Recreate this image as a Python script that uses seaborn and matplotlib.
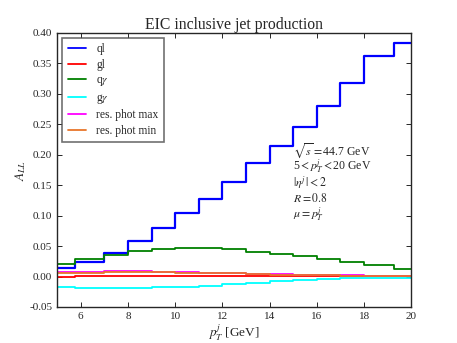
import numpy as np
import pandas as pd
import matplotlib
matplotlib.use("Agg")
import matplotlib.pyplot as plt
import seaborn as sns

# bin edges in pT (GeV) and A_LL per bin for each channel
edges = [5, 5.75, 7, 8, 9, 10, 11, 12, 13, 14, 15, 16, 17, 18, 19.25, 20]
channels = ["ql", "gl", r"q$\gamma$", r"g$\gamma$", "res. phot max", "res. phot min"]
ql = [0.0137, 0.024, 0.039, 0.058, 0.079, 0.104, 0.128, 0.155, 0.186, 0.215, 0.246, 0.280, 0.318, 0.362, 0.383]
gl = [0.0, 0.0003, 0.0005, 0.0006, 0.0007, 0.0008, 0.0009, 0.001, 0.001, 0.001, 0.001, 0.001, 0.001, 0.001, 0.001]
qgam = [0.021, 0.028, 0.036, 0.042, 0.045, 0.0475, 0.047, 0.0445, 0.041, 0.037, 0.0335, 0.029, 0.0235, 0.019, 0.013]
ggam = [-0.0165, -0.0185, -0.0195, -0.0195, -0.018, -0.017, -0.015, -0.013, -0.010, -0.0077, -0.0055, -0.004, -0.003, -0.0027, -0.002]
phot_max = [0.008, 0.008, 0.009, 0.0085, 0.008, 0.007, 0.006, 0.005, 0.0045, 0.0035, 0.003, 0.0025, 0.002, 0.0015, 0.001]
phot_min = [0.005, 0.006, 0.007, 0.007, 0.0068, 0.0062, 0.0055, 0.005, 0.004, 0.003, 0.0025, 0.002, 0.0015, 0.001, 0.001]
colors = ["#0000ff", "#ff0000", "#008000", "#00ffff", "#ff00ff", "#e8762b"]

# long table, last value repeated at the upper edge for the step drawing
frames = []
for name, vals in zip(channels, [ql, gl, qgam, ggam, phot_max, phot_min]):
    frames.append(pd.DataFrame({"pt": edges, "all": vals + [vals[-1]], "channel": name}))
df = pd.concat(frames, ignore_index=True)

sns.set_style("ticks")
plt.rcParams["font.family"] = ["Liberation Serif", "STIXGeneral", "DejaVu Serif"]
plt.rcParams["mathtext.fontset"] = "stix"
plt.rcParams["xtick.direction"] = "in"
plt.rcParams["ytick.direction"] = "in"
plt.rcParams["xtick.top"] = True
plt.rcParams["ytick.right"] = True

fig = plt.figure(figsize=(4.57, 3.43), dpi=100)
ax = fig.add_axes([0.125, 0.105, 0.775, 0.799])
sns.lineplot(data=df, x="pt", y="all", hue="channel", palette=colors,
             drawstyle="steps-post", estimator=None, sort=False, linewidth=1.3, ax=ax)
ax.get_lines()[0].set_linewidth(1.6)

ax.set_xlim(5, 20)
ax.set_ylim(-0.05, 0.40)
ax.set_xticks(range(6, 21, 2))
ax.set_yticks(np.arange(-0.05, 0.401, 0.05))
ax.set_yticklabels([f"{v:.2f}" for v in np.arange(-0.05, 0.401, 0.05)])
ax.tick_params(labelsize=8, length=3.5, width=0.7)
for s in ax.spines.values():
    s.set_linewidth(1.0)

ax.set_title("EIC inclusive jet production", fontsize=11.3, pad=3)
ax.set_xlabel(r"$p_T^j$ [GeV]", fontsize=9.5, labelpad=1)
ax.set_ylabel(r"$A_{LL}$", fontsize=9.5, labelpad=1)

leg = ax.legend(loc="upper left", fontsize=8.3, frameon=True, fancybox=False,
                borderaxespad=0.4, handlelength=1.6, handletextpad=0.9,
                labelspacing=0.3, borderpad=0.5)
leg.get_frame().set_edgecolor("0.3")
leg.get_frame().set_linewidth(1.2)

notes = [r"$\sqrt{s}=$44.7 GeV", r"5$<p_T^j<$20 GeV", r"$|\eta^j\,|<2$", r"$R=0.8$", r"$\mu=p_T^j$"]
for i, t in enumerate(notes):
    ax.text(15.0, 0.207 - i * 0.0262, t, fontsize=8.5, va="center", ha="left")

fig.savefig("out.png", dpi=100)
